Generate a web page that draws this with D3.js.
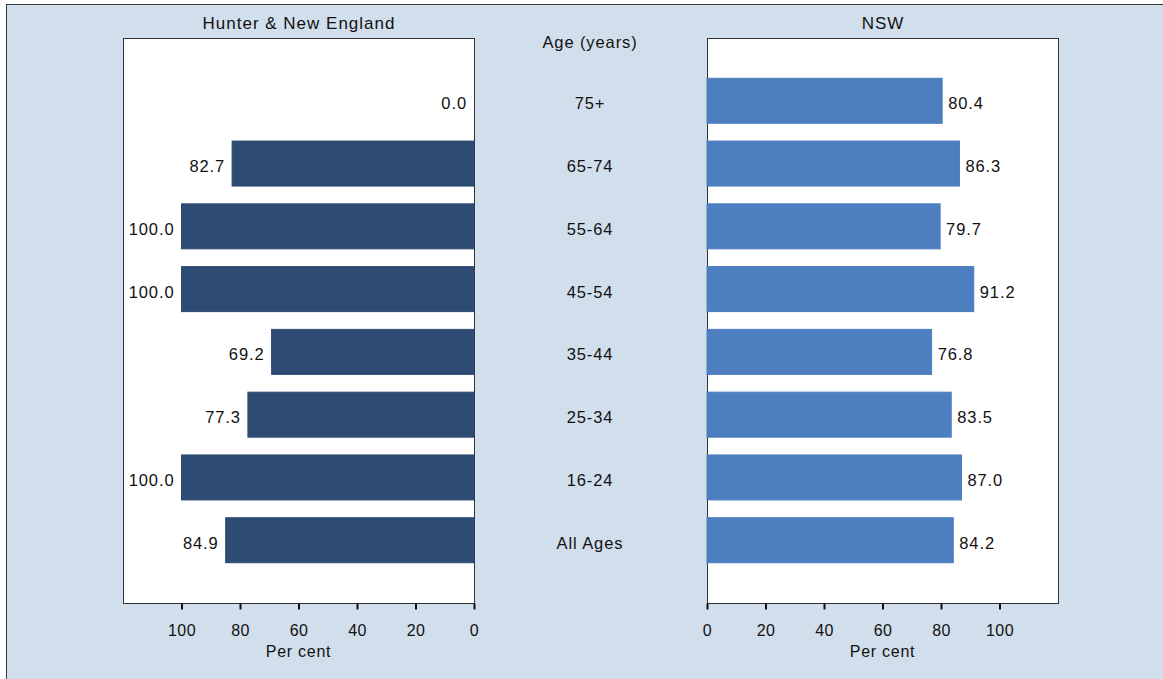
<!DOCTYPE html>
<html><head><meta charset="utf-8">
<script src="https://cdn.jsdelivr.net/npm/d3@7"></script>
<style>
html,body{margin:0;padding:0;background:#fff;}
svg{display:block;font-family:"Liberation Sans",Arial,sans-serif;}
</style></head>
<body>
<svg id="chart" width="1163" height="679"></svg>
<script>
const categories = ["75+","65-74","55-64","45-54","35-44","25-34","16-24","All Ages"];
const hneValues = [0.0, 82.7, 100.0, 100.0, 69.2, 77.3, 100.0, 84.9];
const nswValues = [80.4, 86.3, 79.7, 91.2, 76.8, 83.5, 87.0, 84.2];
const tickValues = [0, 20, 40, 60, 80, 100];
const leftTitle = "Hunter & New England";
const rightTitle = "NSW";
const middleTitle = "Age (years)";
const axisTitle = "Per cent";

const svg = d3.select("#chart");
svg.append("rect").attr("x",6.5).attr("y",4.5).attr("width",1170).attr("height",690)
  .attr("fill","#d1deec").attr("stroke","#3a3a3a").attr("stroke-width",1);

const plotTop = 38, plotBottom = 603;
const y = d3.scalePoint().domain(categories).range([plotTop, plotBottom]).padding(1);
const barH = 45;

const xL = d3.scaleLinear().domain([0,120]).range([474,123]);
const xR = d3.scaleLinear().domain([0,120]).range([707,1058]);

function panel(x, vals, color, title, leftSide){
  const [r0, r1] = x.range();
  const x0 = Math.min(r0,r1), x1 = Math.max(r0,r1);
  svg.append("rect").attr("x",x0+0.5).attr("y",plotTop+0.5).attr("width",x1-x0).attr("height",plotBottom-plotTop)
    .attr("fill","#fff").attr("stroke","#333").attr("stroke-width",1);
  const g = svg.append("g");
  g.selectAll("rect.bar").data(categories).join("rect").attr("class","bar")
    .attr("x", (d,i)=> Math.min(x(0), x(vals[i])))
    .attr("width", (d,i)=> Math.abs(x(vals[i]) - x(0)))
    .attr("y", d=> y(d) - barH/2)
    .attr("height", barH)
    .attr("fill", color)
    .attr("stroke", color).attr("stroke-width", 1);
  g.selectAll("text.val").data(categories).join("text").attr("class","val")
    .attr("x", (d,i)=> leftSide ? x(vals[i]) - 7 : x(vals[i]) + 6)
    .attr("y", d=> y(d))
    .attr("dy","0.52em")
    .attr("text-anchor", leftSide ? "end" : "start")
    .attr("font-size",16.5).attr("letter-spacing",0.9).attr("fill","#111")
    .text((d,i)=> vals[i].toFixed(1));
  const ax = svg.append("g").attr("transform",`translate(0,${plotBottom+0.5})`)
    .call(d3.axisBottom(x).tickValues(tickValues).tickSize(6).tickPadding(15).tickFormat(d3.format("d")));
  ax.select(".domain").remove();
  ax.selectAll(".tick line").attr("stroke","#111").attr("stroke-width",2);
  ax.selectAll(".tick text").attr("font-size",16).attr("letter-spacing",0.4).attr("fill","#111")
    .attr("font-family","'Liberation Sans',Arial,sans-serif");
  svg.append("text").attr("x",(x0+x1)/2).attr("y",657).attr("text-anchor","middle")
    .attr("font-size",16).attr("letter-spacing",0.75).attr("fill","#111").text(axisTitle);
  svg.append("text").attr("x",(x0+x1)/2+0.5).attr("y",28.5).attr("text-anchor","middle")
    .attr("font-size",17).attr("letter-spacing",1).attr("fill","#111").text(title);
}
panel(xL, hneValues, "#2e4b73", leftTitle, true);
panel(xR, nswValues, "#4d7ebf", rightTitle, false);

svg.append("text").attr("x",590).attr("y",48).attr("text-anchor","middle")
  .attr("font-size",16.5).attr("letter-spacing",0.9).attr("fill","#111").text(middleTitle);
svg.selectAll("text.cat").data(categories).join("text").attr("class","cat")
  .attr("x",590).attr("y",d=>y(d)).attr("dy","0.52em").attr("text-anchor","middle")
  .attr("font-size",16.5).attr("letter-spacing",0.9).attr("fill","#111").text(d=>d);
</script>
</body></html>
